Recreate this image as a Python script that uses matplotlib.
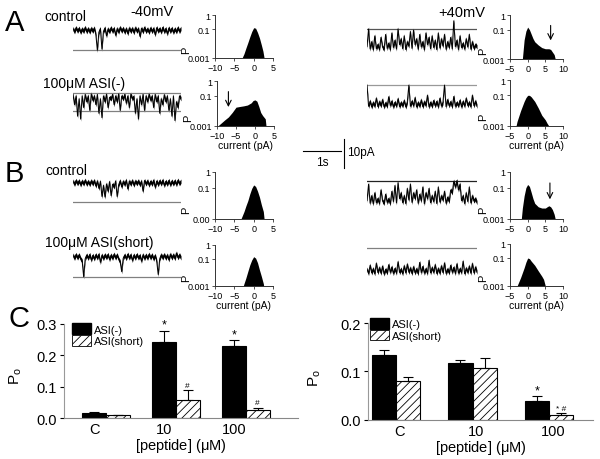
import numpy as np
import matplotlib.pyplot as plt
from matplotlib.patches import Patch
from matplotlib.ticker import NullLocator

plt.rcParams['font.family'] = ['Liberation Sans', 'DejaVu Sans']
plt.rcParams['hatch.linewidth'] = 0.6

W, H = 600, 460
PX_PER_PA = 2.9
trace_seconds = 2.9
noise_half = 0.75   # half-thickness of the baseline noise band, pA

# ---- single channel records (pA, relative to closed level) ----
a_ctrl_m40 = [0.5,-0.6,0.8,-0.4,0.6,-0.8,0.4,-0.5,0.9,-0.6,0.5,-0.7,0.6,-0.4,0.7,-1.5,-7.0,-0.8,0.5,-6.6,
              -0.5,0.7,-2.0,0.4,-0.6,0.8,-0.5,0.6,-1.8,0.5,-0.7,0.9,-0.4,0.6,-0.8,0.5,-1.2,0.7,-0.5,0.6,
              -0.9,0.8,-0.4,0.5,-2.2,0.6,-0.6,0.9,-0.5,0.4,-0.8,0.7,-0.5,0.6,-1.6,0.8,-0.4,0.5,-0.7,0.9,
              -0.6,0.5,-1.3,0.7,-0.5,0.6,-0.8,0.4,-0.6,0.8,-0.5,0.6]
a_asi_m40 = [-0.5,-4,-1,-8,-2,-9,-1,-5,-0.5,-3,-1,-6,-0.3,-2.5,-1,-4,-0.5,-7,-2,-8.5,
             -1,-3,-0.4,-5,-1.5,-2,-0.5,-4,-1,-3,-0.3,-6,-1,-2,-0.5,-3.5,-1,-5,-0.4,-2,
             -1.2,-7,-2,-9,-1,-4,-0.5,-6,-1,-3,-0.4,-2.5,-1,-5,-0.5,-3,-1,-7,-2,-4,
             -0.6,-3,-1,-6,-2,-8,-1,-9.5,-3,-5,-1,-2]
a_ctrl_p40 = [0.3,6.4,-0.5,2,-0.8,4,-0.4,1,-0.7,3.5,0.2,-0.6,4.5,-0.3,1.5,-0.8,5,0,2.5,-0.5,
              6.4,1,3,-0.4,4,-0.7,2,0.5,5.5,-0.3,6,1,3,-0.6,4.5,0.2,2,-0.8,5,1,
              3.5,-0.4,4,0,2.5,-0.7,5,-0.2,3,0.5,4.5,-0.6,2,0,3.5,-0.5,9.2,0.3,2.5,-0.7,
              4,0,1.5,-0.5,3,0.2,4.5,-0.6,2,-0.3,1,0.2]
a_asi_p40 = [6.5,-0.8,1,-1,0.5,-0.7,2,-0.9,0.8,-0.6,1.5,-1,0.4,-0.8,2.5,-0.5,1,-1,0.6,-0.7,
             1.8,-0.9,0.5,-0.6,1.2,-1,0.7,6.5,-0.8,1,-0.6,2.2,-1,0.5,-0.7,1.4,-0.9,0.8,-0.5,3,
             -1,0.6,-0.8,1.2,-0.6,0.9,-1,2,-0.7,0.5,6.5,-0.9,1.5,-0.6,0.8,-1,2.6,-0.8,0.5,-0.6,
             1.3,-1,0.9,-0.7,2,-0.5,0.6,-0.9,3,-0.6,1,-0.8]
b_ctrl_m40 = [0.5,-0.6,0.7,-0.4,0.6,-0.8,0.5,-0.5,0.8,-0.6,0.4,-0.7,0.6,-0.5,0.7,-1.2,0.5,-2,0.4,-4.8,
              -1,-5,-0.5,-3,0.3,-4.5,-0.6,-1.5,0.5,-4.8,-0.8,0.6,-1.5,0.4,-0.7,0.8,-2.2,0.5,-0.6,0.7,
              -0.9,0.5,-0.4,0.6,-0.8,0.5,-3,0.7,-0.5,0.6,-0.9,0.4,-0.6,0.8,-1.6,0.5,-0.7,0.6,-0.5,0.8,
              -1,0.4,-0.6,0.7,-0.8,0.5,-0.5,0.6,-0.7,0.8,-0.4,0.5]
b_short_m40 = [0.5,-0.6,0.7,-0.5,0.6,-0.8,-1.5,-7,-0.8,0.5,-0.6,0.7,-1.2,0.4,-0.8,0.6,-0.5,0.8,-2,0.5,
               -0.7,0.6,-0.4,0.7,-1,0.5,-0.6,0.8,-0.5,0.6,-0.9,-1.8,-5.2,-0.6,0.5,-0.7,0.8,-0.5,0.6,-1.3,
               0.5,-0.6,0.7,-0.5,0.4,-1.6,0.6,-0.7,0.5,-0.6,0.8,-0.5,0.6,-0.9,0.4,-1.5,-6.2,-0.8,0.6,-0.5,
               0.7,-0.6,0.5,-1.1,0.8,-0.5,0.6,-0.7,1.2,-0.4,0.6,-0.5]
b_ctrl_p40 = [0.3,6,-0.6,2,-0.8,3,-0.4,1,-0.7,4,0.2,-0.6,2.5,-0.3,1,-0.8,3.5,0,5.5,-0.5,
              6.5,1,3,-0.4,2,-0.7,4.5,0.5,6,-0.3,3,1,4,-0.6,2.5,0.2,5,-0.8,3,1,
              4.5,-0.4,2,0,3.5,-0.7,5,-0.2,2,0.5,3.5,-0.6,1.5,0,4,3,7,5,7.2,4,
              6,0.3,2,-0.7,3,0,5,-0.5,2,0.2,1,-0.4]
b_short_p40 = [0.5,-1,1.8,-0.8,0.6,-1.1,2.5,-0.7,1,-0.9,1.5,-1.2,0.4,-0.8,2,-0.6,1.2,-1,0.7,-0.9,
               3,-0.7,0.5,-1.1,1.6,-0.8,2.2,-0.6,0.9,-1,1.3,-0.8,0.6,-1.1,2.8,-0.7,1.4,-0.9,0.6,-1,
               3.5,-0.8,1,-0.6,2,-1,0.7,-0.9,1.6,-0.7,2.6,-1,0.5,-0.8,1.8,-0.6,1.1,-1,2.3,-0.9,
               0.6,-0.7,3.2,-1.1,0.8,-0.6,1.5,-0.9,2.4,-0.8,1.2,-0.6]

# reference (closed / open) levels drawn over each record, pA
a_ctrl_m40_lv = [-6.8]
a_asi_m40_lv = [0, -6.1]
a_ctrl_p40_lv = [6.4]
a_asi_p40_lv = [6.5]
b_ctrl_m40_lv = [-6.8]
b_short_m40_lv = [-7.0]
b_ctrl_p40_lv = [7.1]
b_short_p40_lv = [7.8]

# ---- all-point amplitude histograms (current pA, probability) ----
h1_i = [-3.0,-2.5,-2,-1.5,-1,-0.5,0,0.5,1,1.5,2,2.4,2.7]
h1_p = [0.001,0.002,0.005,0.012,0.03,0.07,0.13,0.12,0.06,0.025,0.008,0.003,0.001]
h2_i = [-9.8,-9,-8,-7,-6,-5,-4,-3,-2,-1,-0.5,0,0.5,1,1.5,2,2.7,2.9]
h2_p = [0.001,0.0015,0.0025,0.004,0.008,0.018,0.02,0.022,0.025,0.035,0.05,0.055,0.045,0.02,0.008,0.005,0.003,0.001]
h3_i = [-1.5,-1,-0.5,0,0.5,1,1.5,2,3,4,5,6,6.5,7,7.5,7.8]
h3_p = [0.001,0.02,0.08,0.15,0.1,0.05,0.025,0.015,0.009,0.006,0.005,0.005,0.0045,0.003,0.002,0.001]
h4_i = [-3.3,-3,-2,-1,-0.5,0,0.5,1,2,3,4,5,5.5,6]
h4_p = [0.001,0.002,0.01,0.04,0.07,0.1,0.1,0.08,0.04,0.015,0.005,0.0025,0.0015,0.001]
h5_i = [-3.3,-3,-2.5,-2,-1.5,-1,-0.5,0,0.5,1,1.5,2,2.5,2.7]
h5_p = [0.001,0.0015,0.003,0.007,0.015,0.04,0.09,0.15,0.12,0.06,0.025,0.008,0.003,0.001]
h6_i = [-2.7,-2.5,-2,-1.5,-1,-0.5,0,0.5,1,1.5,2,2.5,2.6]
h6_p = [0.001,0.0015,0.004,0.012,0.035,0.08,0.14,0.11,0.05,0.015,0.005,0.0015,0.001]
h7_i = [-1.8,-1.5,-1,-0.5,0,0.5,1,1.5,2,3,4,5,5.5,6,6.5,7,7.5,7.8]
h7_p = [0.001,0.005,0.03,0.1,0.16,0.12,0.05,0.02,0.01,0.006,0.005,0.005,0.006,0.007,0.006,0.004,0.002,0.001]
h8_i = [-3,-2.5,-2,-1,-0.5,0,0.5,1,2,3,4,4.5,5]
h8_p = [0.001,0.002,0.004,0.02,0.05,0.1,0.09,0.06,0.03,0.012,0.005,0.003,0.001]

# ---- open probability summaries ----
groups = ['C', '10', '100']
left_neg = [0.017, 0.240, 0.228]
left_neg_err = [0.002, 0.037, 0.019]
left_short = [0.009, 0.058, 0.025]
left_short_err = [0.001, 0.030, 0.009]
left_neg_marks = ['', '*', '*']
left_short_marks = ['', '#', '#']
right_neg = [0.134, 0.118, 0.039]
right_neg_err = [0.011, 0.006, 0.009]
right_short = [0.080, 0.106, 0.009]
right_short_err = [0.009, 0.022, 0.004]
right_neg_marks = ['', '', '*']
right_short_marks = ['', '', '* #']

fig = plt.figure(figsize=(6, 4.6), dpi=100)


def px_axes(x0, y0, x1, y1):
    return fig.add_axes([x0 / W, 1 - y1 / H, (x1 - x0) / W, (y1 - y0) / H])


def label(x, y, s, size, ha='left'):
    fig.text(x / W, 1 - y / H, s, fontsize=size, ha=ha, va='center')


def trace(x0, x1, y_zero, values, levels, lcolor='#808080'):
    ax = px_axes(x0, y_zero - 12 * PX_PER_PA, x1, y_zero + 12 * PX_PER_PA)
    t = np.linspace(0, trace_seconds, len(values))
    v = np.asarray(values)
    for lv in levels:
        ax.axhline(lv, color=lcolor, lw=0.9)
    ax.fill_between(t, v - noise_half, v + noise_half, color='black', lw=0)
    ax.plot(t, v, color='black', lw=0.7)
    ax.set_xlim(0, trace_seconds)
    ax.set_ylim(-12, 12)
    ax.axis('off')


def hist(box, cur, p, xlim, xticks, xlabel=False, arrow_at=None, low_lab='0.001'):
    ax = px_axes(*box)
    ax.fill_between(cur, 0.001, p, color='black', lw=0)
    ax.set_yscale('log')
    ax.set_ylim(0.001, 1)
    ax.set_xlim(*xlim)
    ax.set_xticks(xticks)
    ax.set_yticks([0.001, 0.1, 1])
    ax.set_yticklabels([low_lab, '0.1', '1'])
    ax.yaxis.set_minor_locator(NullLocator())
    for s in ['top', 'right']:
        ax.spines[s].set_visible(False)
    for s in ['left', 'bottom']:
        ax.spines[s].set_linewidth(0.7)
        ax.spines[s].set_color('#333333')
    ax.tick_params(labelsize=6.5, length=2.5, width=0.6, pad=1, color='#333333')
    ax.set_ylabel('P', fontsize=8)
    ax.yaxis.set_label_coords(-0.42, 0.2)
    if xlabel:
        ax.set_xlabel('current (pA)', fontsize=7.5, labelpad=0)
    if arrow_at is not None:
        ax.annotate('', xy=(arrow_at, 0.012), xytext=(arrow_at, 0.3),
                    arrowprops=dict(arrowstyle='->', lw=0.8, color='black'))


def bars(box, neg, neg_err, short, short_err, neg_marks, short_marks,
         ymax, yticks, xlim, width, tick_shift, ylab_xy, leg_anchor):
    ax = px_axes(*box)
    x = np.arange(len(groups))
    ax.bar(x - width / 2, neg, width, color='black', edgecolor='black', lw=0.8,
           yerr=[np.zeros(len(neg)), neg_err], capsize=3.5,
           error_kw=dict(lw=0.8, capthick=0.8, ecolor='black'))
    ax.bar(x + width / 2, short, width, color='white', edgecolor='black', lw=0.8,
           hatch='////', yerr=[np.zeros(len(short)), short_err], capsize=3.5,
           error_kw=dict(lw=0.8, capthick=0.8, ecolor='black'))
    for i in range(len(groups)):
        if neg_marks[i]:
            ax.annotate(neg_marks[i], (x[i] - width / 2, neg[i] + neg_err[i]),
                        xytext=(0, 0), textcoords='offset points',
                        ha='center', va='bottom', fontsize=9)
        if short_marks[i]:
            ax.annotate(short_marks[i], (x[i] + width / 2, short[i] + short_err[i]),
                        xytext=(0, 1), textcoords='offset points',
                        ha='center', va='bottom', fontsize=6)
    ax.set_xlim(*xlim)
    ax.set_ylim(0, ymax)
    ax.set_yticks(yticks)
    ax.set_yticklabels(['%.1f' % v for v in yticks])
    ax.set_xticks(x + tick_shift)
    ax.set_xticklabels(groups)
    for s in ['top', 'right']:
        ax.spines[s].set_visible(False)
    ax.spines['left'].set_color('#999999')
    ax.spines['bottom'].set_color('#888888')
    ax.tick_params(axis='y', labelsize=10.5, length=3, width=0.8, pad=2)
    ax.tick_params(axis='x', labelsize=10.5, length=0, pad=3)
    ax.set_xlabel('[peptide] ($\\mathregular{\\mu}$M)', fontsize=10.5, labelpad=0)
    ax.set_ylabel('P$_\\mathregular{o}$', fontsize=11)
    ax.yaxis.set_label_coords(*ylab_xy)
    handles = [Patch(facecolor='black', edgecolor='black'),
               Patch(facecolor='white', edgecolor='black', hatch='////', lw=0.6)]
    ax.legend(handles, ['ASI(-)', 'ASI(short)'], loc='upper left',
              bbox_to_anchor=leg_anchor, frameon=False, fontsize=8,
              handlelength=1.7, handleheight=1.1, handletextpad=0.3,
              labelspacing=0.05, borderaxespad=0, borderpad=0)


# panel A
label(5, 23, 'A', 21)
label(44, 17, 'control', 10)
label(130, 12, '-40mV', 10.5)
label(43, 84, '100\u03bcM ASI(-)', 10)
label(438, 13, '+40mV', 10.5)
trace(73, 181, 31, a_ctrl_m40, a_ctrl_m40_lv)
trace(73, 181, 94, a_asi_m40, a_asi_m40_lv)
trace(367, 477, 48.5, a_ctrl_p40, a_ctrl_p40_lv, '#555555')
trace(367, 477, 105, a_asi_p40, a_asi_p40_lv, '#999999')
hist((215, 16, 273, 59), h1_i, h1_p, (-10, 5), [-10, -5, 0, 5])
hist((217, 82, 274, 127), h2_i, h2_p, (-10, 5), [-10, -5, 0, 5], xlabel=True, arrow_at=-7)
hist((510, 16, 563, 60), h3_i, h3_p, (-5, 10), [-5, 0, 5, 10], arrow_at=6.5)
hist((510, 81, 563, 127), h4_i, h4_p, (-5, 10), [-5, 0, 5, 10], xlabel=True)

# scale bar: 1 s, 10 pA
sb = px_axes(303, 140, 341, 140 + 10 * PX_PER_PA)
sb.plot([0, 1], [6, 6], color='black', lw=0.8, clip_on=False)
sb.plot([1.07, 1.07], [0, 10], color='black', lw=0.8, clip_on=False)
sb.set_xlim(0, 1)
sb.set_ylim(0, 10)
sb.axis('off')
label(322, 163, '1s', 8.5, ha='center')
label(347, 153, '10pA', 8.5)

# panel B
label(5, 174, 'B', 21)
label(45, 171, 'control', 10)
label(45, 243, '100\u03bcM ASI(short)', 10)
trace(73, 181, 183.5, b_ctrl_m40, b_ctrl_m40_lv)
trace(73, 181, 257.5, b_short_m40, b_short_m40_lv)
trace(367, 477, 202.5, b_ctrl_p40, b_ctrl_p40_lv, '#222222')
trace(367, 477, 271.5, b_short_p40, b_short_p40_lv)
hist((215, 173, 273, 220), h5_i, h5_p, (-10, 5), [-10, -5, 0, 5], low_lab='0.00')
hist((215, 246, 273, 287), h6_i, h6_p, (-10, 5), [-10, -5, 0, 5], xlabel=True)
hist((510, 173, 563, 220), h7_i, h7_p, (-5, 10), [-5, 0, 5, 10], arrow_at=6.3)
hist((510, 245, 563, 287), h8_i, h8_p, (-5, 10), [-5, 0, 5, 10], xlabel=True)

# panel C
label(8, 319, 'C', 21)
bars((64, 324.5, 298, 419.3), left_neg, left_neg_err, left_short, left_short_err,
     left_neg_marks, left_short_marks, 0.3, [0.0, 0.1, 0.2, 0.3],
     (-0.6, 2.743), 0.336, -0.168, (-0.17, 0.46), (0.035, 1.0))
bars((368, 324, 593, 420.7), right_neg, right_neg_err, right_short, right_short_err,
     right_neg_marks, right_short_marks, 0.2, [0.0, 0.1, 0.2],
     (-0.366, 2.575), 0.314, 0.05, (-0.2, 0.44), (0.01, 1.05))

fig.savefig('out.png', dpi=100)
